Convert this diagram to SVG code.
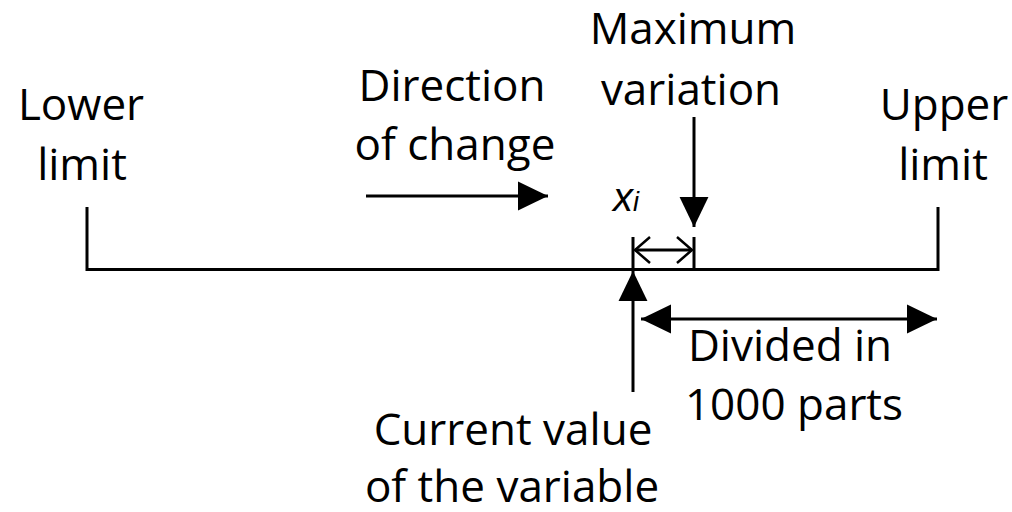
<svg xmlns="http://www.w3.org/2000/svg" width="1012" height="512" viewBox="0 0 1012 512">
<style>
.ln{stroke:#000;stroke-width:3;fill:none}
.t{font-family:"Open Sans","Liberation Sans",sans-serif;font-size:44px;fill:#000;text-anchor:middle}
.xi{font-family:"Liberation Sans",Arial,sans-serif;font-style:italic;fill:#000}
</style>
<defs>
<marker id="ah" markerUnits="userSpaceOnUse" markerWidth="30" markerHeight="30" viewBox="0 0 27 26" refX="27" refY="13" orient="auto-start-reverse">
<path d="M0,0 L27,13 L0,26 Z" fill="#000"/>
</marker>
<marker id="oh" markerUnits="userSpaceOnUse" markerWidth="20" markerHeight="30" viewBox="0 0 17 30" refX="16" refY="15" orient="auto-start-reverse">
<path d="M1,2 L16,15 L1,28" fill="none" stroke="#000" stroke-width="2.5"/>
</marker>
</defs>
<g id="connectors">
<path class="ln" d="M87,207 V269.5 H938 V207"/>
<line class="ln" x1="633" y1="237" x2="633" y2="270"/>
<line class="ln" x1="694" y1="237" x2="694" y2="270"/>
<line class="ln" x1="635" y1="250" x2="692" y2="250" marker-start="url(#oh)" marker-end="url(#oh)"/>
<line class="ln" x1="633" y1="392" x2="633" y2="271" marker-end="url(#ah)"/>
<line class="ln" x1="694" y1="117" x2="694" y2="227" marker-end="url(#ah)"/>
<line class="ln" x1="366" y1="196" x2="548" y2="196" marker-end="url(#ah)"/>
<line class="ln" x1="641" y1="319" x2="937" y2="319" marker-start="url(#ah)" marker-end="url(#ah)"/>
</g>
<g id="lower-limit"><text class="t" x="81" y="120">Lower</text><text class="t" x="82" y="180">limit</text></g>
<g id="direction"><text class="t" x="452" y="101">Direction</text><text class="t" x="455" y="160">of change</text></g>
<g id="max-variation"><text class="t" x="693" y="44">Maximum</text><text class="t" x="691" y="105">variation</text></g>
<g id="upper-limit"><text class="t" x="944" y="120">Upper</text><text class="t" x="943" y="180">limit</text></g>
<g id="divided"><text class="t" x="790" y="361">Divided in</text><text class="t" x="794" y="420">1000 parts</text></g>
<g id="current"><text class="t" x="513" y="445">Current value</text><text class="t" x="512" y="502">of the variable</text></g>
<g id="xi"><text class="xi" x="613" y="211" font-size="40">x<tspan font-size="27">i</tspan></text></g>
</svg>
